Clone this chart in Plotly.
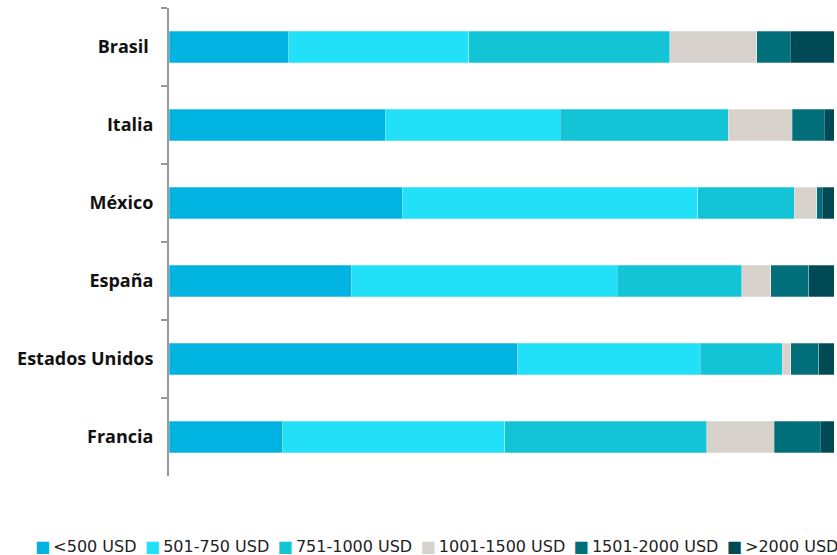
import plotly.graph_objects as go

# Price ranges (USD) share per country, in %
countries = ["Brasil\u00a0", "Italia", "México", "España", "Estados Unidos", "Francia"]
ranges = ["&lt;500 USD", "501-750 USD", "751-1000 USD", "1001-1500 USD", "1501-2000 USD", "&gt;2000 USD"]

lt_500 = [18.0, 32.5, 35.1, 27.5, 52.5, 17.1]
r_501_750 = [27.1, 26.3, 44.4, 39.9, 27.5, 33.4]
r_751_1000 = [30.2, 25.3, 14.5, 18.7, 12.3, 30.4]
r_1001_1500 = [13.1, 9.6, 3.4, 4.4, 1.3, 10.1]
r_1501_2000 = [5.0, 4.8, 0.8, 5.7, 4.2, 6.9]
gt_2000 = [6.6, 1.5, 1.8, 3.8, 2.3, 2.1]

series = [lt_500, r_501_750, r_751_1000, r_1001_1500, r_1501_2000, gt_2000]
colors = ["#00B3E0", "#22E0F7", "#13C3D6", "#D7D2CC", "#006F7A", "#004A55"]

FONT = "Open Sans"
LEGEND_FONT = "DejaVu Sans"

fig = go.Figure()
for name, vals, color in zip(ranges, series, colors):
    fig.add_trace(go.Bar(
        y=countries,
        x=vals,
        name=name,
        orientation="h",
        marker=dict(color=color, line=dict(width=0.6, color="rgba(255,255,255,0.45)")),
        showlegend=False,
    ))

# compact legend row (square swatch + label), like the original
legend_text = "\u00a0\u2009".join(
    f'<span style="color:{c};font-size:16px">■</span>\u2009{n}' for n, c in zip(ranges, colors)
)
fig.add_annotation(
    text=legend_text,
    xref="paper", yref="paper",
    x=0.403, y=-0.15,
    xanchor="center", yanchor="middle",
    showarrow=False,
    font=dict(family=LEGEND_FONT, size=16, color="#222222"),
)

fig.update_layout(
    barmode="stack",
    barnorm="percent",
    bargap=0.6,
    width=837,
    height=555,
    margin=dict(l=169, r=3, t=8, b=79),
    plot_bgcolor="white",
    paper_bgcolor="white",
    font=dict(family=FONT, color="#111111"),
)

fig.update_xaxes(
    range=[0, 100],
    showticklabels=False,
    showgrid=False,
    zeroline=False,
    showline=False,
    ticks="",
)
fig.update_yaxes(
    autorange="reversed",
    showgrid=False,
    showline=True,
    linecolor="#999999",
    linewidth=2,
    ticks="outside",
    tickson="boundaries",
    ticklen=6,
    tickwidth=2,
    tickcolor="#999999",
    ticklabelstandoff=10,
    tickfont=dict(family=FONT, size=18, color="#111111", weight="bold"),
)

# page body margin would shift the fixed-size figure
fig.write_html(
    "out.html",
    config={"displayModeBar": False},
    post_script="document.body.style.margin='0';",
)
